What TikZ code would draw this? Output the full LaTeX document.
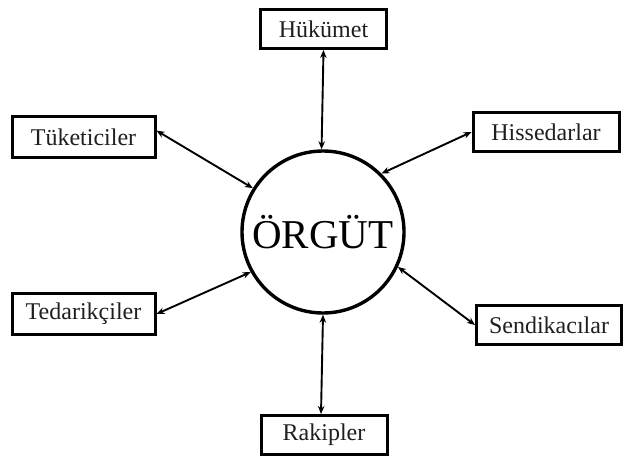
\documentclass[tikz,border=0pt]{standalone}
\usepackage{fontspec}
\setmainfont{Liberation Serif}
\usetikzlibrary{arrows.meta}
\begin{document}
\begin{tikzpicture}[x=1pt,y=-1pt,
  box/.style={draw=black,line width=3pt,rectangle,inner sep=0pt,minimum height=39pt,font=\fontsize{24}{24}\selectfont,text=black!88},
  org/.style={draw=black,line width=3.4pt,circle,inner sep=0pt,minimum size=162pt,font=\fontsize{41}{41}\selectfont},
  link/.style={line width=1.9pt,{Stealth[length=8pt,width=6.5pt]}-{Stealth[length=8pt,width=6.5pt]}}]
\useasboundingbox (0,0) rectangle (628,457);
\node[org] (o) at (323,232) {ÖRGÜT};
\node[box,minimum width=126pt] (huk) at (323.5,29) {Hükümet};
\node[box,minimum width=143pt,minimum height=41pt] (tuk) at (83.5,137) {Tüketiciler};
\node[box,minimum width=146pt] (his) at (546,132) {Hissedarlar};
\node[box,minimum width=143pt,minimum height=41pt] (ted) at (83.5,314) {Tedarikçiler};
\node[box,minimum width=145pt] (sen) at (549,325) {Sendikacılar};
\node[box,minimum width=126pt] (rak) at (324,435) {Rakipler};
\draw[link] (huk.south) -- (o.91);
\draw[link] (tuk.5) -- (o.148);
\draw[link] (his.west) -- (o.45);
\draw[link] (ted.east) -- (o.209);
\draw[link] (o.335) -- (sen.west);
\draw[link] (o.270) -- ([xshift=-3pt]rak.north);
\end{tikzpicture}
\end{document}
